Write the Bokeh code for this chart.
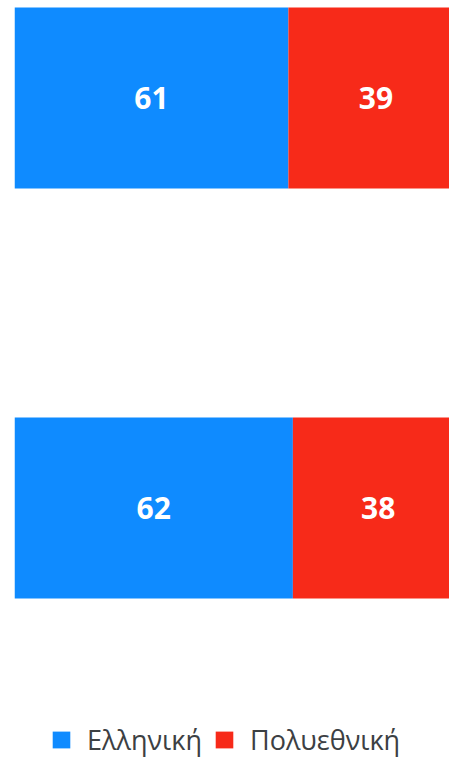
from bokeh.plotting import figure
from bokeh.models import ColumnDataSource, Legend, LegendItem, Range1d
from bokeh.core.properties import value
from bokeh.embed import file_html
from bokeh.resources import INLINE

# ---- data ----
rows = ["row1", "row2"]
ellhniki = [61, 62]
polyethniki = [39, 38]
series_names = ["Ελληνική", "Πολυεθνική"]
colors = ["#0f8bff", "#f72a19"]

# ---- layout ----
W, H = 449, 760
frame_left_px = 14
frame_w = W - frame_left_px
full_w = 449.0  # width that spans 0..100 in the original
x_max = 100.0 * frame_w / full_w

px_per_unit = 410.0
c2 = 507.5  # centre of lower bar in frame px from top
y_top = c2 / px_per_unit
y_bot = (c2 - H) / px_per_unit
bar_h = 181.0 / px_per_unit

ypos = [len(rows) - 1 - i for i in range(len(rows))]
src = ColumnDataSource(dict(
    y=ypos,
    a_left=[0] * len(rows),
    a_right=ellhniki,
    b_left=ellhniki,
    b_right=[ellhniki[i] + polyethniki[i] for i in range(len(rows))],
    a_mid=[v / 2 for v in ellhniki],
    b_mid=[ellhniki[i] + polyethniki[i] / 2 for i in range(len(rows))],
    a_txt=[str(v) for v in ellhniki],
    b_txt=[str(v) for v in polyethniki],
))

p = figure(width=W, height=H, output_backend="svg", toolbar_location=None,
           x_range=Range1d(0, x_max), y_range=Range1d(y_bot, y_top),
           min_border_left=frame_left_px, min_border_right=0,
           min_border_top=0, min_border_bottom=0)
p.axis.visible = False
p.grid.visible = False
p.outline_line_color = None
p.background_fill_color = "white"

ra = p.hbar(y="y", left="a_left", right="a_right", height=bar_h, source=src,
            fill_color=colors[0], line_color=None)
rb = p.hbar(y="y", left="b_left", right="b_right", height=bar_h, source=src,
            fill_color=colors[1], line_color=None)

for xcol, tcol in (("a_mid", "a_txt"), ("b_mid", "b_txt")):
    p.text(x=xcol, y="y", text=tcol, source=src, text_color="white",
           text_font=value("Open Sans"), text_font_style="bold",
           text_font_size="30px", text_align="center", text_baseline="middle")

legend = Legend(items=[LegendItem(label=series_names[0], renderers=[ra]),
                       LegendItem(label=series_names[1], renderers=[rb])],
                orientation="horizontal", location=(36, 2))
legend.label_text_font = "Open Sans"
legend.label_text_font_size = "27px"
legend.label_text_color = "#3c4043"
legend.glyph_width = 22
legend.glyph_height = 21
legend.label_standoff = 15
legend.spacing = 11
legend.padding = 0
legend.margin = 0
legend.border_line_color = None
legend.background_fill_alpha = 0
p.add_layout(legend, "center")

open("out.html", "w").write(file_html(p, INLINE))
